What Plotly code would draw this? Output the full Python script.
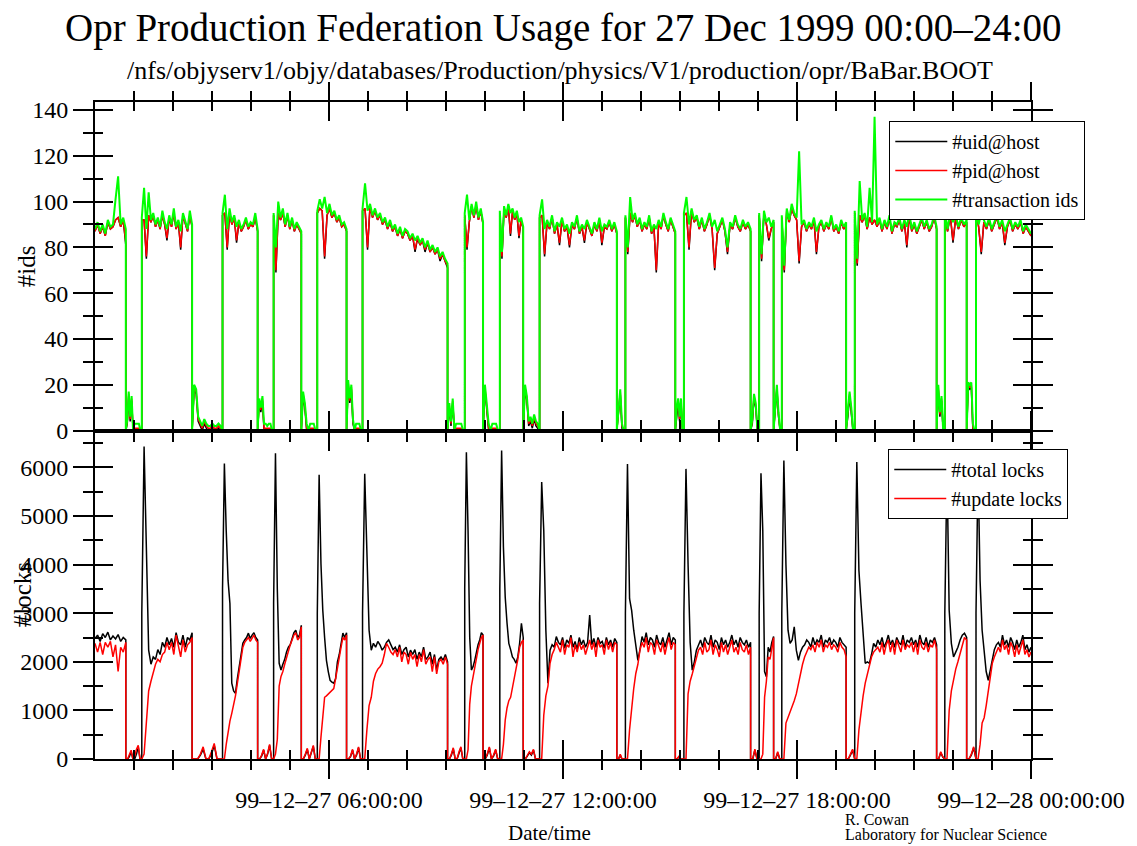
import numpy as np
import plotly.graph_objects as go

FONT = "Liberation Serif"

# Segment boundaries (hours of 27 Dec 1999): up, down, up, down, ... , up
bounds = [0.00, 0.79, 1.20, 2.49, 3.27, 4.17, 4.58, 5.29, 5.70, 6.45, 6.86,
          9.04, 9.48, 9.95, 10.38, 10.98, 11.40, 13.38, 13.60, 14.88, 15.10,
          16.81, 17.03, 17.40, 17.61, 19.26, 19.48, 21.58, 21.79, 22.35, 22.59, 24.00]

# ---------------- top panel: #ids ----------------
trans_ids = [
    [88, 91, 87, 90, 86, 92, 89, 90, 101, 111, 90, 93, 88],
    [0, 5, 17, 6, 15, 0, 3, 3, 3, 3, 0, 0],
    [93, 106, 88, 104, 92, 95, 90, 93, 89, 96, 91, 88, 94, 90, 97, 89, 92, 87, 95, 91, 88, 96, 90],
    [0, 20, 18, 6, 4, 2, 5, 3, 2, 2, 3, 2, 2, 3, 2, 0],
    [95, 103, 88, 97, 91, 94, 89, 92, 88, 90, 93, 89, 91, 90, 95, 88],
    [0, 14, 10, 15, 3, 3, 2, 3, 3, 0, 0],
    [95, 80, 100, 93, 97, 90, 95, 89, 93, 88, 91, 89, 87],
    [0, 17, 12, 3, 0, 3, 3, 3, 0, 0],
    [96, 101, 97, 102, 95, 99, 94, 96, 92, 94, 90, 91, 88],
    [0, 22, 14, 20, 5, 0, 3, 3, 3, 0, 0],
    [97, 108, 96, 99, 94, 97, 93, 95, 91, 93, 89, 92, 88, 90, 86, 89, 85, 88, 87, 84, 86, 83, 85,
     82, 84, 80, 83, 79, 81, 78, 80, 76, 78, 75, 73],
    [0, 12, 4, 14, 0, 3, 3, 3, 3, 0, 0],
    [95, 103, 92, 99, 94, 100, 93, 97, 91],
    [0, 20, 12, 3, 0, 3, 3, 3, 0, 0],
    [96, 78, 98, 94, 99, 95, 97, 93, 96, 91, 93, 89],
    [0, 20, 15, 4, 6, 3, 7, 4, 3, 0],
    [94, 101, 88, 92, 89, 94, 87, 91, 89, 93, 88, 90, 86, 91, 89, 94, 87, 90, 88, 92, 89, 86, 91,
     88, 93, 87, 90, 89, 92, 88, 91, 87],
    [0, 10, 18, 3, 0, 0],
    [94, 80, 102, 92, 95, 90, 93, 88, 91, 89, 94, 87, 90, 88, 92, 89, 95, 91, 88, 93, 90, 87],
    [0, 10, 14, 6, 14, 0, 0],
    [95, 102, 90, 97, 92, 94, 89, 93, 88, 91, 95, 89, 92, 87, 90, 93, 88, 80, 91, 89, 94, 90, 88,
     92, 89, 91, 88],
    [0, 5, 16, 12, 0, 0],
    [95, 77, 96, 91, 93, 89, 92],
    [0, 12, 20, 8, 0, 0],
    [94, 72, 97, 92, 99, 95, 93, 122, 90, 92, 88, 91, 89, 93, 87, 90, 92, 88, 91, 89, 94, 88, 90,
     87, 92, 89, 91],
    [0, 8, 17, 10, 0, 0],
    [96, 75, 109, 92, 95, 89, 106, 91, 137, 90, 93, 88, 92, 89, 94, 87, 91, 90, 93, 88, 92, 89, 95,
     88, 91, 87, 90, 93, 89, 92, 88, 90, 94, 89],
    [0, 20, 8, 15, 0, 0],
    [96, 88, 95, 91, 94, 89, 93, 90, 92],
    [0, 21, 20, 21, 3, 0, 0],
    [97, 90, 95, 92, 89, 93, 88, 91, 94, 89, 92, 87, 90, 93, 88, 91, 89, 92, 87, 90, 88, 86],
]

pid_host = [
    [87, 90, 86, 89, 85, 91, 88, 89, 92, 93, 89, 92, 82],
    [0, 4, 16, 5, 14, 0, 1, 1, 1, 1, 0, 0],
    [92, 92, 76, 94, 91, 94, 89, 92, 88, 94, 90, 84, 93, 89, 95, 88, 91, 80, 94, 90, 87, 94, 89],
    [0, 19, 17, 5, 3, 1, 4, 2, 1, 1, 2, 1, 1, 2, 1, 0],
    [94, 95, 80, 95, 90, 93, 83, 91, 87, 89, 92, 88, 90, 89, 93, 87],
    [0, 13, 9, 14, 1, 1, 1, 1, 1, 0, 0],
    [94, 70, 95, 92, 95, 89, 94, 88, 92, 87, 90, 88, 86],
    [0, 16, 11, 1, 0, 1, 1, 1, 0, 0],
    [95, 97, 96, 76, 94, 97, 93, 95, 91, 93, 89, 90, 87],
    [0, 21, 13, 19, 4, 0, 1, 1, 1, 0, 0],
    [96, 97, 80, 98, 93, 96, 92, 94, 90, 92, 88, 91, 87, 89, 85, 88, 84, 87, 86, 83, 85, 79, 84,
     81, 83, 79, 82, 78, 80, 77, 79, 75, 77, 74, 72],
    [0, 11, 3, 13, 0, 1, 1, 1, 1, 0, 0],
    [94, 80, 91, 98, 93, 98, 92, 96, 90],
    [0, 19, 11, 1, 0, 1, 1, 1, 0, 0],
    [95, 76, 97, 93, 98, 86, 96, 92, 95, 85, 92, 88],
    [0, 19, 14, 3, 5, 2, 6, 3, 2, 0],
    [93, 94, 77, 91, 88, 93, 86, 90, 82, 92, 87, 89, 81, 90, 88, 93, 86, 89, 83, 91, 88, 85, 90,
     87, 92, 82, 89, 88, 91, 87, 90, 86],
    [0, 8, 17, 2, 0, 0],
    [93, 78, 95, 91, 94, 89, 92, 87, 90, 88, 93, 86, 89, 70, 91, 88, 94, 90, 87, 92, 89, 86],
    [0, 9, 13, 5, 13, 0, 0],
    [94, 95, 80, 96, 91, 93, 88, 92, 87, 90, 94, 88, 71, 86, 89, 92, 87, 78, 90, 88, 93, 89, 87,
     91, 88, 90, 87],
    [0, 4, 15, 11, 0, 0],
    [94, 75, 95, 90, 84, 88, 91],
    [0, 11, 19, 7, 0, 0],
    [93, 70, 96, 91, 97, 94, 92, 74, 89, 91, 87, 90, 88, 92, 78, 89, 91, 87, 90, 88, 93, 87, 89,
     86, 91, 88, 90],
    [0, 7, 16, 9, 0, 0],
    [95, 73, 94, 91, 94, 88, 93, 90, 92, 89, 92, 87, 91, 88, 93, 86, 90, 89, 92, 87, 91, 81, 94,
     87, 90, 86, 89, 92, 88, 91, 87, 89, 93, 88],
    [0, 19, 7, 14, 0, 0],
    [95, 87, 94, 83, 93, 88, 92, 89, 91],
    [0, 20, 19, 20, 1, 0, 0],
    [96, 89, 78, 91, 88, 92, 87, 90, 93, 88, 91, 82, 89, 92, 87, 90, 88, 91, 86, 89, 87, 85],
]

uid_host = [
    [87, 90, 86, 89, 85, 91, 88, 89, 92, 93, 89, 92, 81],
    [0, 3, 15, 4, 13, 0, 0, 0, 0, 0, 0, 0],
    [92, 92, 75, 94, 91, 94, 89, 92, 88, 94, 90, 83, 93, 89, 95, 88, 91, 79, 94, 90, 87, 94, 89],
    [0, 18, 16, 4, 2, 0, 3, 1, 0, 0, 1, 0, 0, 1, 0, 0],
    [94, 95, 79, 95, 90, 93, 82, 91, 87, 89, 92, 88, 90, 89, 93, 87],
    [0, 12, 8, 13, 0, 0, 0, 0, 0, 0, 0],
    [94, 69, 95, 92, 95, 89, 94, 88, 92, 87, 90, 88, 86],
    [0, 15, 10, 0, 0, 0, 0, 0, 0, 0],
    [95, 97, 96, 75, 94, 97, 93, 95, 91, 93, 89, 90, 87],
    [0, 20, 12, 18, 3, 0, 0, 0, 0, 0, 0],
    [96, 97, 79, 98, 93, 96, 92, 94, 90, 92, 88, 91, 87, 89, 85, 88, 84, 87, 86, 83, 85, 78, 84,
     81, 83, 78, 82, 78, 80, 77, 79, 74, 77, 74, 71],
    [0, 10, 2, 12, 0, 0, 0, 0, 0, 0, 0],
    [94, 79, 91, 98, 93, 98, 92, 96, 90],
    [0, 18, 10, 0, 0, 0, 0, 0, 0, 0],
    [95, 75, 97, 93, 98, 85, 96, 92, 95, 84, 92, 88],
    [0, 18, 13, 2, 4, 1, 5, 2, 1, 0],
    [93, 94, 76, 91, 88, 93, 86, 90, 81, 92, 87, 89, 80, 90, 88, 93, 86, 89, 82, 91, 88, 85, 90,
     87, 92, 81, 89, 88, 91, 87, 90, 86],
    [0, 7, 16, 1, 0, 0],
    [93, 77, 95, 91, 94, 89, 92, 87, 90, 88, 93, 86, 89, 69, 91, 88, 94, 90, 87, 92, 89, 86],
    [0, 8, 12, 4, 12, 0, 0],
    [94, 95, 79, 96, 91, 93, 88, 92, 87, 90, 94, 88, 70, 86, 89, 92, 87, 77, 90, 88, 93, 89, 87,
     91, 88, 90, 87],
    [0, 3, 14, 10, 0, 0],
    [94, 74, 95, 90, 83, 88, 91],
    [0, 10, 18, 6, 0, 0],
    [93, 69, 96, 91, 97, 94, 92, 73, 89, 91, 87, 90, 88, 92, 77, 89, 91, 87, 90, 88, 93, 87, 89,
     86, 91, 88, 90],
    [0, 6, 15, 8, 0, 0],
    [95, 72, 94, 91, 94, 88, 93, 90, 92, 89, 92, 87, 91, 88, 93, 86, 90, 89, 92, 87, 91, 80, 94,
     87, 90, 86, 89, 92, 88, 91, 87, 89, 93, 88],
    [0, 18, 6, 13, 0, 0],
    [95, 87, 94, 82, 93, 88, 92, 89, 91],
    [0, 19, 18, 19, 0, 0, 0],
    [96, 89, 77, 91, 88, 92, 87, 90, 93, 88, 91, 81, 89, 92, 87, 90, 88, 91, 86, 89, 87, 85],
]

# ---------------- bottom panel: #locks ----------------
total_locks = [
    [2480, 2550, 2420, 2580, 2500, 2610, 2450, 2530, 2470, 2560, 2420, 2500, 2450],
    [0, 0, 50, 150, 0, 0, 100, 250, 0, 0],
    [3000, 6430, 4460, 2240, 1950, 2100, 2050, 2250, 2150, 2400, 2300, 2500, 2350, 2480, 2300, 2600,
     2400, 2350, 2550, 2300, 2500, 2450, 2600],
    [0, 0, 0, 80, 200, 0, 0, 100, 280, 0, 0, 0],
    [3500, 6080, 4700, 3670, 3200, 1560, 1400, 1350, 1650, 1900, 2150, 2380, 2450, 2500, 2590, 2480,
     2550, 2600, 2500, 2450],
    [0, 0, 60, 180, 0, 100, 280, 0, 0],
    [3200, 6290, 3500, 1970, 1830, 1950, 2050, 2200, 2300, 2350, 2500, 2600, 2650, 2500, 2550, 2750],
    [0, 0, 80, 200, 0, 130, 260, 0, 0],
    [3000, 5850, 4020, 3060, 2500, 2030, 1800, 1620, 1580, 1560, 1650, 2000, 2150, 2350, 2590, 2500, 2600],
    [0, 0, 50, 180, 0, 80, 230, 0, 0],
    [3000, 5870, 4230, 2650, 2240, 2380, 2300, 2420, 2350, 2240, 2300, 2400, 2450, 2350, 2250, 2300,
     2200, 2350, 2150, 2250, 2300, 2100, 2240, 2150, 2250, 2050, 2200, 2100, 2300, 2050, 2100, 2200,
     1950, 2150, 1830, 2050, 2100, 2030, 2150, 2000],
    [0, 0, 80, 210, 0, 0, 130, 230, 0, 0],
    [3500, 6310, 4700, 2500, 1830, 1900, 2030, 2200, 2350, 2450, 2600, 2550],
    [0, 0, 80, 230, 0, 60, 180, 0, 0],
    [3500, 6350, 4360, 3330, 2800, 2380, 2250, 2100, 2050, 1970, 2100, 2380, 2790, 2500],
    [0, 0, 60, 130, 80, 180, 0, 0, 0],
    [3200, 5700, 4700, 2650, 1560, 2240, 2350, 2300, 2520, 2400, 2350, 2500, 2280, 2450, 2380, 2550,
     2300, 2420, 2250, 2500, 2350, 2450, 2300, 2400, 2960, 2350, 2480, 2300, 2500, 2380, 2420, 2280,
     2500, 2350, 2450, 2300, 2480, 2400],
    [0, 0, 80, 0, 0, 0],
    [3000, 6070, 3300, 3060, 2650, 2300, 2030, 2250, 2520, 2400, 2600, 2350, 2500, 2450, 2300, 2550,
     2400, 2350, 2500, 2300, 2450, 2600, 2350, 2500, 2450],
    [0, 0, 40, 0, 0, 0],
    [3000, 5970, 4000, 2400, 1830, 2000, 2240, 2350, 2450, 2300, 2500, 2400, 2350, 2550, 2300, 2450,
     2400, 2250, 2500, 2350, 2450, 2300, 2400, 2550, 2350, 2450, 2300, 2500, 2400, 2350, 2450, 2300, 2400],
    [0, 0, 180, 0, 0],
    [3000, 5880, 4700, 1800, 1690, 2300, 2200, 2400, 2520],
    [0, 0, 130, 0, 0],
    [3000, 6140, 4000, 2650, 2380, 2450, 2720, 2240, 2030, 2200, 2300, 2350, 2450, 2400, 2300, 2500,
     2350, 2450, 2400, 2550, 2300, 2450, 2400, 2500, 2350, 2450, 2400, 2300, 2500, 2400, 2350, 2300],
    [0, 0, 80, 180, 0],
    [3000, 6110, 3880, 3200, 2650, 1970, 2000, 1970, 2150, 2380, 2300, 2450, 2350, 2500, 2300, 2400,
     2550, 2350, 2450, 2300, 2500, 2400, 2350, 2550, 2300, 2450, 2400, 2500, 2350, 2450, 2300, 2550,
     2400, 2350, 2500, 2300, 2450, 2400, 2500, 2350],
    [0, 0, 130, 40, 0],
    [3000, 6000, 3060, 2380, 2100, 2200, 2300, 2450, 2550, 2590, 2500],
    [0, 0, 80, 230, 0],
    [3000, 6000, 3670, 2650, 2200, 1800, 1620, 1850, 2100, 2250, 2350, 2400, 2300, 2550, 2350, 2450,
     2300, 2500, 2400, 2250, 2450, 2300, 2400, 2550, 2250, 2350, 2200, 2300],
]

update_locks = [
    [2380, 2200, 2400, 2150, 2400, 2300, 2420, 2100, 2350, 1800, 2300, 2200, 2400],
    [0, 0, 80, 180, 0, 60, 200, 280, 0, 0],
    [0, 100, 700, 1400, 1600, 1800, 1950, 2050, 2000, 2150, 2200, 2400, 2250, 2400, 2150, 2550, 2300,
     2100, 2450, 2200, 2350, 2400, 2500],
    [0, 0, 0, 100, 250, 0, 0, 150, 320, 0, 0, 0],
    [0, 0, 300, 600, 780, 940, 1100, 1300, 1550, 1800, 2050, 2300, 2400, 2450, 2500, 2420, 2500, 2550,
     2450, 2400],
    [0, 0, 80, 200, 0, 120, 300, 0, 0],
    [0, 100, 400, 1500, 1700, 1800, 1950, 2100, 2250, 2350, 2450, 2550, 2600, 2450, 2500, 2720],
    [0, 0, 100, 220, 0, 150, 280, 0, 0],
    [0, 0, 450, 900, 1270, 1300, 1340, 1380, 1400, 1450, 1650, 1900, 2100, 2300, 2500, 2450, 2550],
    [0, 0, 60, 200, 0, 100, 250, 0, 0],
    [0, 0, 600, 1100, 1270, 1600, 1760, 1850, 1900, 1970, 2150, 2380, 2300, 2200, 2150, 2250, 2100,
     2300, 2000, 2200, 2150, 1950, 2200, 2050, 2150, 1900, 2150, 2000, 2250, 1950, 2050, 2100, 1800,
     2100, 1750, 2000, 2050, 1950, 2100, 1950],
    [0, 0, 100, 230, 0, 0, 150, 250, 0, 0],
    [0, 0, 190, 1130, 1500, 1700, 1830, 2050, 2250, 2380, 2500, 2550],
    [0, 0, 100, 250, 0, 80, 200, 0, 0],
    [0, 0, 300, 800, 1050, 1200, 1270, 1450, 1650, 1830, 2050, 2300, 2400, 2450],
    [0, 0, 80, 150, 100, 200, 0, 0, 0],
    [0, 0, 900, 1300, 1500, 1970, 2150, 2250, 2400, 2300, 2200, 2450, 2150, 2350, 2300, 2500, 2100,
     2350, 2200, 2400, 2250, 2350, 2150, 2300, 2450, 2250, 2400, 2100, 2450, 2300, 2350, 2150, 2450,
     2250, 2400, 2200, 2400, 2350],
    [0, 0, 100, 0, 0, 0],
    [0, 0, 600, 1100, 1450, 1760, 1950, 2240, 2400, 2300, 2500, 2200, 2400, 2350, 2150, 2450, 2300,
     2200, 2400, 2150, 2350, 2500, 2250, 2400, 2350],
    [0, 0, 50, 0, 0, 0],
    [0, 0, 1340, 1600, 1750, 1900, 2050, 2240, 2300, 2150, 2400, 2200, 2250, 2450, 2150, 2350, 2250,
     2100, 2400, 2200, 2350, 2150, 2300, 2450, 2200, 2300, 2150, 2400, 2250, 2200, 2350, 2150, 2300],
    [0, 0, 200, 0, 0],
    [0, 0, 100, 1270, 1600, 2100, 2050, 2300, 2500],
    [0, 0, 150, 0, 0],
    [0, 0, 740, 850, 1000, 1100, 1200, 1340, 1550, 1760, 1950, 2100, 2200, 2300, 2250, 2350, 2200,
     2400, 2300, 2450, 2200, 2350, 2300, 2400, 2250, 2350, 2300, 2200, 2400, 2300, 2250, 2100],
    [0, 0, 100, 200, 0],
    [0, 0, 600, 1000, 1300, 1560, 1750, 1900, 2100, 2200, 2250, 2300, 2200, 2400, 2150, 2350, 2450,
     2200, 2400, 2150, 2450, 2300, 2200, 2450, 2250, 2350, 2300, 2400, 2200, 2400, 2150, 2450, 2300,
     2250, 2400, 2200, 2350, 2300, 2450, 2250],
    [0, 0, 150, 50, 0],
    [0, 0, 1000, 1400, 1650, 1850, 2000, 2170, 2350, 2500, 2450],
    [0, 0, 100, 250, 0],
    [0, 0, 300, 740, 850, 1100, 1400, 1700, 1970, 2100, 2200, 2300, 2200, 2450, 2250, 2350, 2150, 2400,
     2300, 2100, 2350, 2150, 2300, 2450, 2150, 2250, 2100, 2200],
]

major_hours = [6, 12, 18, 24]
major_labels = ["99\u201312\u201327 06:00:00", "99\u201312\u201327 12:00:00",
                "99\u201312\u201327 18:00:00", "99\u201312\u201328 00:00:00"]
minor_hours = [1, 2, 3, 4, 5, 7, 8, 9, 10, 11, 13, 14, 15, 16, 17, 19, 20, 21, 22, 23]


def build(segs):
    xs, ys = [], []
    for k, vals in enumerate(segs):
        t = np.linspace(bounds[k], bounds[k + 1], len(vals))
        xs.extend(t.tolist())
        ys.extend(vals)
    return xs, ys


fig = go.Figure()


def add(segs, name, color, width, xa, ya, legend):
    xs, ys = build(segs)
    fig.add_trace(go.Scatter(x=xs, y=ys, mode="lines", name=name,
                             line=dict(color=color, width=width),
                             xaxis=xa, yaxis=ya, legend=legend))


add(uid_host, "#uid@host", "black", 1.5, "x", "y", "legend")
add(pid_host, "#pid@host", "#ff0000", 1.5, "x", "y", "legend")
add(trans_ids, "#transaction ids", "#00ff00", 2, "x", "y", "legend")
add(total_locks, "#total locks", "black", 1.5, "x2", "y2", "legend2")
add(update_locks, "#update locks", "#ff0000", 1.5, "x2", "y2", "legend2")

# empty helper traces so that the overlay axes (inner half of crossing ticks) are drawn
for xa, ya in [("x3", "y"), ("x", "y3"), ("x4", "y2"), ("x2", "y4")]:
    fig.add_trace(go.Scatter(x=[None], y=[None], mode="lines", xaxis=xa, yaxis=ya,
                             showlegend=False, hoverinfo="skip"))

tickfont = dict(family=FONT, size=24, color="black")


def xax(anchor, inside, labels, overlay=None):
    d = dict(range=[0, 24], anchor=anchor, showgrid=False, zeroline=False,
             tickmode="array", tickvals=major_hours,
             ticks="inside" if inside else "outside",
             ticklen=19 if inside else 18, tickwidth=2, tickcolor="black",
             mirror="ticks",
             showline=not inside, linecolor="black", linewidth=2,
             minor=dict(tickmode="array", tickvals=minor_hours,
                        ticks="inside" if inside else "outside",
                        ticklen=9, tickwidth=2, tickcolor="black"),
             showticklabels=labels, tickfont=tickfont)
    if labels:
        d["ticktext"] = major_labels
        d["ticklabelstandoff"] = 0
    if overlay:
        d["overlaying"] = overlay
    return d


def yax(anchor, rng, dtick, mdtick, inside, domain=None, overlay=None):
    d = dict(range=rng, anchor=anchor, showgrid=False, zeroline=False,
             tickmode="linear", tick0=0, dtick=dtick,
             ticks="inside" if inside else "outside",
             ticklen=18 if inside else 20, tickwidth=2, tickcolor="black",
             mirror="ticks",
             showline=not inside, linecolor="black", linewidth=2,
             minor=dict(tickmode="linear", tick0=0, dtick=mdtick,
                        ticks="inside" if inside else "outside",
                        ticklen=8 if inside else 10, tickwidth=2, tickcolor="black"),
             showticklabels=not inside, tickfont=tickfont)
    if domain:
        d["domain"] = domain
    if overlay:
        d["overlaying"] = overlay
    return d


legend_common = dict(xanchor="left", yanchor="top", bgcolor="white",
                     bordercolor="black", borderwidth=1, tracegroupgap=0,
                     itemwidth=52,
                     font=dict(family=FONT, size=20, color="black"))

fig.update_layout(
    width=1137, height=846,
    margin=dict(l=95, r=104, t=102, b=87),
    paper_bgcolor="white", plot_bgcolor="white",
    font=dict(family=FONT, color="black"),
    showlegend=True,
    xaxis=xax("y", False, False),
    xaxis2=xax("y2", False, True),
    xaxis3=xax("y", True, False, overlay="x"),
    xaxis4=xax("y2", True, False, overlay="x2"),
    yaxis=yax("x", [0, 143.5], 20, 10, False, domain=[0.5, 1]),
    yaxis2=yax("x2", [0, 6760], 1000, 500, False, domain=[0, 0.5]),
    yaxis3=yax("x", [0, 143.5], 20, 10, True, overlay="y"),
    yaxis4=yax("x2", [0, 6760], 1000, 500, True, overlay="y2"),
    legend=dict(x=0.8486, y=0.9711, **legend_common),
    legend2=dict(x=0.8475, y=0.4718, **legend_common),
    annotations=[
        dict(text="Opr Production Federation Usage for 27 Dec 1999 00:00\u201324:00",
             xref="paper", yref="paper", x=0.5, y=1.1126, showarrow=False,
             xanchor="center", yanchor="middle", font=dict(family=FONT, size=39)),
        dict(text="/nfs/objyserv1/objy/databases/Production/physics/V1/production/opr/BaBar.BOOT",
             xref="paper", yref="paper", x=0.4968, y=1.0487, showarrow=False,
             xanchor="center", yanchor="middle", font=dict(family=FONT, size=26)),
        dict(text="#ids", xref="paper", yref="paper", x=-0.0725, y=0.7504,
             showarrow=False, textangle=-90, xanchor="center", yanchor="middle",
             font=dict(family=FONT, size=25)),
        dict(text="#locks", xref="paper", yref="paper", x=-0.0778, y=0.2496,
             showarrow=False, textangle=-90, xanchor="center", yanchor="middle",
             font=dict(family=FONT, size=25)),
        dict(text="Date/time", xref="paper", yref="paper", x=0.4851, y=-0.1126,
             showarrow=False, xanchor="center", yanchor="middle",
             font=dict(family=FONT, size=21)),
        dict(text="R. Cowan", xref="paper", yref="paper", x=0.7996, y=-0.0928,
             showarrow=False, xanchor="left", yanchor="middle",
             font=dict(family=FONT, size=16)),
        dict(text="Laboratory for Nuclear Science", xref="paper", yref="paper",
             x=0.7996, y=-0.1157, showarrow=False, xanchor="left", yanchor="middle",
             font=dict(family=FONT, size=16)),
    ],
)

fig.write_html("out.html")
